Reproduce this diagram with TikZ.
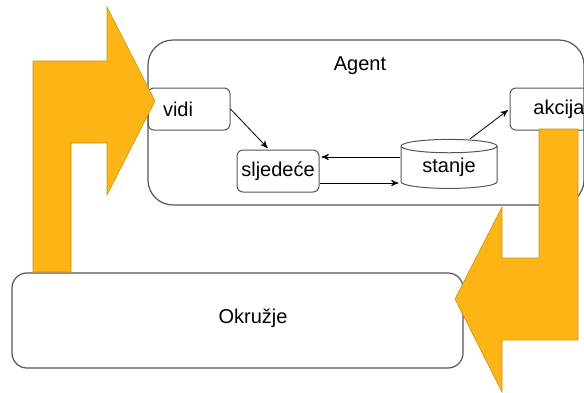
\documentclass[tikz,border=0pt]{standalone}
\usepackage{fontspec}
\setmainfont{Liberation Sans}
\usetikzlibrary{arrows,positioning,shapes.geometric}
\definecolor{arrowfill}{HTML}{FDB515}
\definecolor{boxline}{HTML}{555555}

\begin{document}
\begin{tikzpicture}[x=0.5pt,y=-0.5pt,>=stealth',shorten >=1pt,
    box/.style={draw=boxline,rounded corners=3pt,line width=0.5pt,
      minimum width=41pt,minimum height=21pt,inner sep=0pt},
    store/.style={draw=boxline,cylinder,shape border rotate=90,shape aspect=0.25,
      minimum width=48pt,minimum height=24.5pt,line width=0.5pt,inner sep=0pt},
    frame/.style={draw=boxline,line width=0.6pt,inner sep=0pt},
    bigarrow/.style={fill=arrowfill,draw=arrowfill!80!black,line width=0.3pt}]

    \useasboundingbox (0,0) rectangle (584,392);

    % agent
    \node[frame,rounded corners=12.5pt,minimum width=218pt,minimum height=82.5pt] (agent) at (366,122.5) {};
    \node (agentlabel) at (360,66) {Agent};

    \node[box,text width=26pt,align=left] (vidi) at (189,109) {vidi};
    \node[box] (sljedece) at (278,171) {sljedeće};
    \node[store] (stanje) at (449,167.5) {stanje};
    \node[box,minimum width=49pt] (akcija) at (559,109) {akcija};

    \coordinate (s1) at ([yshift=5.25pt]stanje.west);
    \coordinate (s2) at ([yshift=-7.75pt]stanje.west);

    \draw[->] (vidi.east) -- ([xshift=-4.5pt]sljedece.north);
    \draw[->] (s1) -- (s1 -| sljedece.east);
    \draw[->] (s2 -| sljedece.east) -- (s2);
    \draw[->] ([xshift=10.5pt]stanje.north) -- (akcija.west);

    % okruzje
    \node[frame,rounded corners=7.5pt,minimum width=225.5pt,minimum height=47.5pt] (okruzje) at (237.5,320.5) {};
    \node (okruzjelabel) at (253,318) {Okružje};

    % percepcija i akcija
    \draw[bigarrow] (33,272) -- (33,61) -- (107,61) -- (107,7) -- (155,101)
        -- (107,195) -- (107,143) -- (71,143) -- (71,272) -- cycle;
    \draw[bigarrow] (539,129) -- (578,129) -- (578,340) -- (502,340) -- (502,392)
        -- (455,299) -- (502,207) -- (502,258) -- (539,258) -- cycle;

\end{tikzpicture}
\end{document}
